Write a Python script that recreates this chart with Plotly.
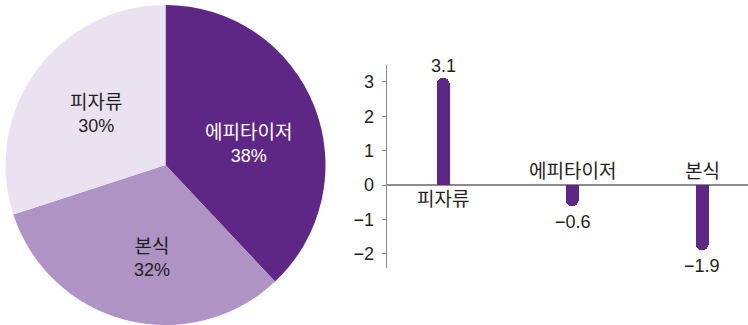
import math
import plotly.graph_objects as go

# Share of menu sales (%)
pie_labels = ["에피타이저", "본식", "피자류"]
pie_values = [38, 32, 30]
pie_colors = ["#5F2785", "#AE93C4", "#EAE2F0"]
pie_text_colors = ["#FFFFFF", "#231F20", "#231F20"]

# Change by category (%p)
bar_labels = ["피자류", "에피타이저", "본식"]
bar_values = [3.1, -0.6, -1.9]
y_ticks = [-2, -1, 0, 1, 2, 3]

FONT = "Liberation Sans, Noto Sans CJK KR, sans-serif"
TEXT = "#231F20"
BAR = "#5F2785"
AXIS = "#8C8C8C"
NUM_SIZE = 18
KOR_SIZE = 19

W, H = 748, 325
pie_dom_x = [5.5 / W, 325.5 / W]
pie_dom_y = [0.0, 0.985]
# fine pixel nudges of the slice labels (x, y)
label_nudge = [(1, 11), (8, 8), (2, 1)]

fig = go.Figure()

fig.add_trace(go.Pie(
    labels=pie_labels, values=pie_values, sort=False, direction="clockwise",
    rotation=0, marker=dict(colors=pie_colors, line=dict(width=0)),
    textinfo="none", hoverinfo="skip", showlegend=False,
    domain=dict(x=pie_dom_x, y=pie_dom_y),
))

# Slice labels placed at the middle angle of each slice
cx = (pie_dom_x[0] + pie_dom_x[1]) / 2 * W
cy = (1 - (pie_dom_y[0] + pie_dom_y[1]) / 2) * H
radius = min((pie_dom_x[1] - pie_dom_x[0]) * W, (pie_dom_y[1] - pie_dom_y[0]) * H) / 2
total = sum(pie_values)
cum = 0
annotations = []
for lab, val, col, (nx, ny) in zip(pie_labels, pie_values, pie_text_colors, label_nudge):
    mid = (cum + val / 2) / total * 2 * math.pi
    cum += val
    px = cx + 0.55 * radius * math.sin(mid) + nx
    py = cy - 0.55 * radius * math.cos(mid) + ny
    annotations.append(dict(
        x=px / W, y=1 - py / H, xref="paper", yref="paper",
        text=f"<span style='font-size:{KOR_SIZE}px'>{lab}</span><br>{round(val / total * 100)}%",
        showarrow=False,
        font=dict(family=FONT, size=NUM_SIZE, color=col), align="center",
        xanchor="center", yanchor="middle",
    ))

# Bars with fully rounded ends
xs = list(range(len(bar_values)))
fig.add_trace(go.Bar(
    x=xs, y=bar_values, width=0.1,
    marker=dict(color=BAR, cornerradius=7, line=dict(width=0)),
    xaxis="x", yaxis="y", showlegend=False, hoverinfo="skip",
))

for x, lab, v in zip(xs, bar_labels, bar_values):
    val_txt = f"{v:.1f}".replace("-", "\u2212")
    num_font = dict(family=FONT, size=NUM_SIZE, color=TEXT)
    kor_font = dict(family=FONT, size=KOR_SIZE, color=TEXT)
    if v >= 0:
        annotations.append(dict(x=x, y=v, xref="x", yref="y", text=val_txt, showarrow=False,
                                yanchor="bottom", yshift=0, font=num_font))
        annotations.append(dict(x=x, y=0, xref="x", yref="y", text=lab, showarrow=False,
                                yanchor="top", yshift=-2, font=kor_font))
    else:
        annotations.append(dict(x=x, y=v, xref="x", yref="y", text=val_txt, showarrow=False,
                                yanchor="top", yshift=-4, font=num_font))
        annotations.append(dict(x=x, y=0, xref="x", yref="y", text=lab, showarrow=False,
                                yanchor="bottom", yshift=1, font=kor_font))

fig.update_layout(
    width=W, height=H, margin=dict(l=0, r=0, t=0, b=0),
    paper_bgcolor="white", plot_bgcolor="white",
    annotations=annotations,
    xaxis=dict(domain=[386.7 / W, 1.0], range=[-0.435, 2.355], showgrid=False,
               showticklabels=False, ticks="", zeroline=False, showline=False),
    yaxis=dict(domain=[1 - 268 / H, 1 - 65 / H], range=[-2.41, 3.49],
               tickvals=y_ticks, ticks="outside", ticklen=4, tickcolor=AXIS,
               ticklabelstandoff=4,
               showgrid=False, showline=True, linecolor=AXIS, linewidth=1.2,
               zeroline=True, zerolinecolor=AXIS, zerolinewidth=1.5,
               tickfont=dict(family=FONT, size=NUM_SIZE, color=TEXT)),
    bargap=0,
)

fig.write_html("out.html")
